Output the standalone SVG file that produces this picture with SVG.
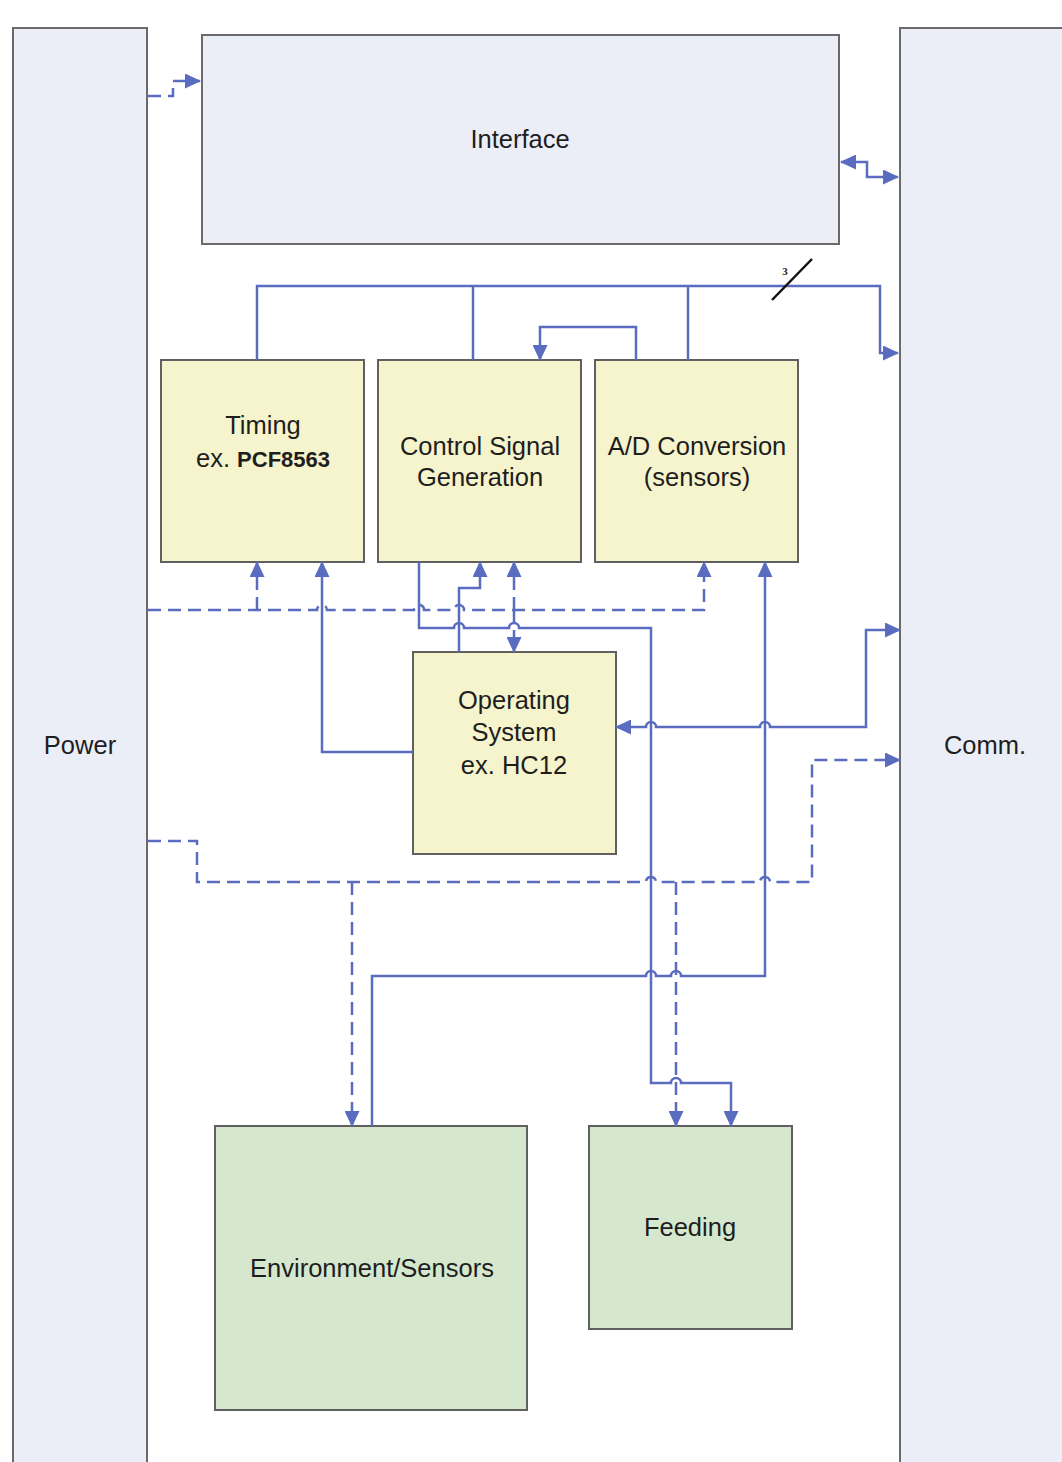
<svg xmlns="http://www.w3.org/2000/svg" width="1062" height="1462" viewBox="0 0 1062 1462">
<style>
.side{fill:#ebeef7;stroke:#6a6a6a;stroke-width:2}
.yb{fill:#f6f4cc;stroke:#606060;stroke-width:2}
.gb{fill:#d5e8cd;stroke:#606060;stroke-width:2}
.t{font-family:"Liberation Sans",Arial,sans-serif;font-size:25.5px;fill:#1e1e1e;text-anchor:middle}
.c{fill:none;stroke:#5a6cc0;stroke-width:2.5}
.d{stroke-dasharray:13 7}
</style>
<defs>
<marker id="ah" viewBox="0 0 16 15" refX="15" refY="7.5" markerWidth="16" markerHeight="15" markerUnits="userSpaceOnUse" orient="auto-start-reverse">
<path d="M0,0 L16,7.5 L0,15 z" fill="#5a6cc0"/>
</marker>
</defs>
<rect x="0" y="0" width="1062" height="1462" fill="#ffffff"/>
<g id="power"><rect class="side" x="13" y="28" width="134" height="1450"/><text class="t" x="80" y="754">Power</text></g>
<g id="comm"><rect class="side" x="900" y="28" width="180" height="1450"/><text class="t" x="985" y="754">Comm.</text></g>
<g id="interface"><rect class="side" x="202" y="35" width="637" height="209"/><text class="t" x="520" y="148">Interface</text></g>
<g id="timing"><rect class="yb" x="161" y="360" width="203" height="202"/><text class="t" x="263" y="434">Timing</text><text class="t" x="263" y="467">ex. <tspan font-weight="bold" font-size="22">PCF8563</tspan></text></g>
<g id="control"><rect class="yb" x="378" y="360" width="203" height="202"/><text class="t" x="480" y="455">Control Signal</text><text class="t" x="480" y="486">Generation</text></g>
<g id="adc"><rect class="yb" x="595" y="360" width="203" height="202"/><text class="t" x="697" y="455">A/D Conversion</text><text class="t" x="697" y="486">(sensors)</text></g>
<g id="os"><rect class="yb" x="413" y="652" width="203" height="202"/><text class="t" x="514" y="709">Operating</text><text class="t" x="514" y="741">System</text><text class="t" x="514" y="774">ex. HC12</text></g>
<g id="env"><rect class="gb" x="215" y="1126" width="312" height="284"/><text class="t" x="372" y="1277">Environment/Sensors</text></g>
<g id="feeding"><rect class="gb" x="589" y="1126" width="203" height="203"/><text class="t" x="690" y="1236">Feeding</text></g>
<g id="connectors">
<path class="c d" d="M148,96 L173,96 L173,81 L200,81" marker-end="url(#ah)"/>
<path class="c" d="M841,162 L867,162 L867,177 L898,177" marker-start="url(#ah)" marker-end="url(#ah)"/>
<path class="c" d="M257,360 L257,286 L880,286 L880,353 L898,353" marker-end="url(#ah)"/>
<path class="c" d="M473,360 L473,286"/>
<path class="c" d="M688,360 L688,286"/>
<line x1="772" y1="300" x2="812" y2="259" stroke="#111" stroke-width="2.5"/>
<text x="785" y="275" font-family="Liberation Serif,serif" font-size="11" font-weight="bold" fill="#222" text-anchor="middle">3</text>
<path class="c" d="M636,360 L636,327 L540,327 L540,360" marker-end="url(#ah)"/>
<path class="c d" d="M148,610 L317,610 A5,5 0 0 1 327,610 L414,610 A5,5 0 0 1 424,610 L454,610 A5,5 0 0 1 464,610 L704,610 L704,562" marker-end="url(#ah)"/>
<path class="c d" d="M257,610 L257,562" marker-end="url(#ah)"/>
<path class="c d" d="M514,610 L514,562" marker-end="url(#ah)"/>
<path class="c d" d="M514,610 L514,652" marker-end="url(#ah)"/>
<path class="c" d="M419,562 L419,628 L454,628 A5,5 0 0 1 464,628 L509,628 A5,5 0 0 1 519,628 L651,628 L651,1083 L671,1083 A5,5 0 0 1 681,1083 L731,1083 L731,1126" marker-end="url(#ah)"/>
<path class="c" d="M459,652 L459,588 L480,588 L480,562" marker-end="url(#ah)"/>
<path class="c" d="M413,752 L322,752 L322,562" marker-end="url(#ah)"/>
<path class="c" d="M900,630 L866,630 L866,727 L770,727 A5,5 0 0 0 760,727 L656,727 A5,5 0 0 0 646,727 L616,727" marker-start="url(#ah)" marker-end="url(#ah)"/>
<path class="c" d="M372,1126 L372,976 L646,976 A5,5 0 0 1 656,976 L671,976 A5,5 0 0 1 681,976 L765,976 L765,562" marker-end="url(#ah)"/>
<path class="c d" d="M148,841 L197,841 L197,882 L646,882 A5,5 0 0 1 656,882 L760,882 A5,5 0 0 1 770,882 L812,882 L812,760 L900,760" marker-end="url(#ah)"/>
<path class="c d" d="M352,882 L352,1126" marker-end="url(#ah)"/>
<path class="c d" d="M676,882 L676,1126" marker-end="url(#ah)"/>
</g>
</svg>
